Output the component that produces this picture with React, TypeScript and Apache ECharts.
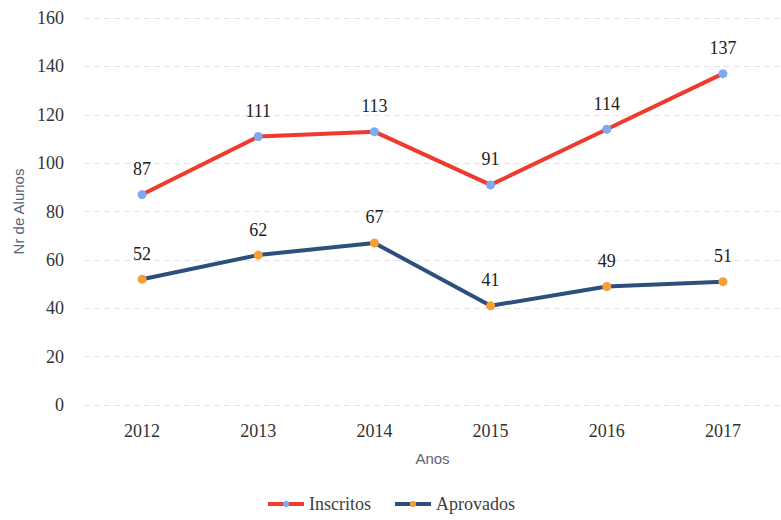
import React, { useEffect, useRef } from "react";
import * as echarts from "echarts";

const years = ["2012", "2013", "2014", "2015", "2016", "2017"];
const inscritos = [87, 111, 113, 91, 114, 137];
const aprovados = [52, 62, 67, 41, 49, 51];

const serif = "Liberation Serif";
const sans = "Liberation Sans";

export default function App() {
  const ref = useRef<HTMLDivElement>(null);
  useEffect(() => {
    if (!ref.current) return;
    const chart = echarts.init(ref.current, undefined, { renderer: "svg" });
    chart.setOption({
      animation: false,
      backgroundColor: "#ffffff",
      textStyle: { fontFamily: serif },
      grid: { left: 84, right: -3, top: 18, bottom: 115, containLabel: false },
      legend: {
        bottom: 2,
        left: "center",
        itemWidth: 36,
        itemHeight: 8,
        itemGap: 22,
        lineStyle: { width: 4 },
        textStyle: { fontFamily: serif, fontSize: 18, color: "#404040" },
        data: ["Inscritos", "Aprovados"],
      },
      xAxis: {
        type: "category",
        data: years,
        boundaryGap: true,
        name: "Anos",
        nameLocation: "middle",
        nameGap: 46,
        nameTextStyle: { fontFamily: sans, fontSize: 15, color: "#5a6478" },
        axisLine: { show: false },
        axisTick: { show: false },
        axisLabel: { fontFamily: serif, fontSize: 18, color: "#333", margin: 17 },
      },
      yAxis: {
        type: "value",
        min: 0,
        max: 160,
        interval: 20,
        name: "Nr de Alunos",
        nameLocation: "middle",
        nameGap: 56,
        nameTextStyle: { fontFamily: sans, fontSize: 15, color: "#5a6478" },
        axisLine: { show: false },
        axisTick: { show: false },
        axisLabel: { fontFamily: serif, fontSize: 18, color: "#333", margin: 20 },
        splitLine: { lineStyle: { color: "#e2e2e2", type: [6, 4], width: 1 } },
      },
      series: [
        {
          name: "Inscritos",
          type: "line",
          data: inscritos,
          symbol: "circle",
          symbolSize: 9,
          lineStyle: { color: "#ee3b2e", width: 4 },
          itemStyle: { color: "#7eaaf0" },
          label: {
            show: true,
            position: "top",
            distance: 12,
            fontFamily: serif,
            fontSize: 18,
            color: "#222",
          },
        },
        {
          name: "Aprovados",
          type: "line",
          data: aprovados,
          symbol: "circle",
          symbolSize: 9,
          lineStyle: { color: "#2c4f7e", width: 4 },
          itemStyle: { color: "#f5a035" },
          label: {
            show: true,
            position: "top",
            distance: 12,
            fontFamily: serif,
            fontSize: 18,
            color: "#222",
          },
        },
      ],
    });
    return () => chart.dispose();
  }, []);
  return (
    <div
      ref={ref}
      style={{ position: "fixed", left: 0, top: 0, width: 781, height: 520 }}
    />
  );
}
